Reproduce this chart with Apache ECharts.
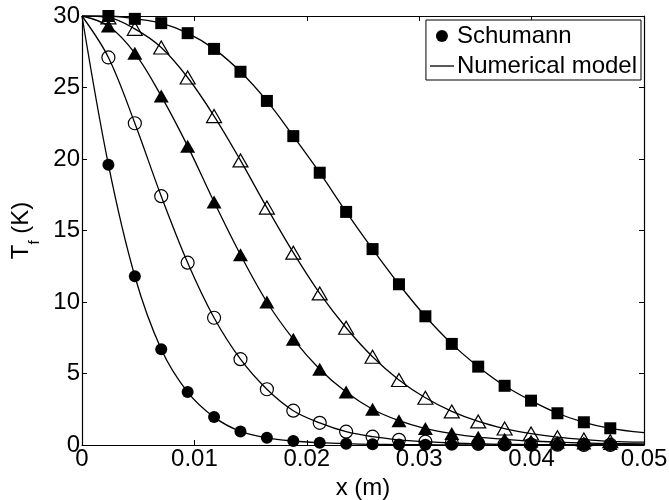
<!DOCTYPE html>
<html>
<head>
<meta charset="utf-8">
<script src="https://cdn.jsdelivr.net/npm/echarts@6/dist/echarts.min.js"></script>
<style>html,body{margin:0;padding:0;background:#fff}#c{width:669px;height:500px}</style>
</head>
<body>
<div id="c"></div>
<script>
// Marker positions (m)
var xPoints = [0.00235, 0.0047, 0.00705, 0.0094, 0.01175, 0.0141, 0.01645, 0.0188, 0.02115, 0.0235,
               0.02585, 0.0282, 0.03055, 0.0329, 0.03525, 0.0376, 0.03995, 0.0423, 0.04465, 0.047];
var xStart = 0, xEnd = 0.05, tStart = 30;
// Schumann values (K) at xPoints
var filledCircle   = [19.6, 11.8, 6.7, 3.7, 1.95, 0.95, 0.5, 0.28, 0.16, 0.09, 0.05, 0.03, 0.02, 0.01, 0.01, 0, 0, 0, 0, 0];
var openCircle     = [27.1, 22.5, 17.4, 12.75, 8.9, 6.0, 3.9, 2.4, 1.55, 0.93, 0.58, 0.36, 0.23, 0.14, 0.09, 0.05, 0.03, 0.02, 0.01, 0.01];
var filledTriangle = [29.3, 27.4, 24.4, 20.9, 17.0, 13.3, 10.0, 7.4, 5.3, 3.7, 2.5, 1.7, 1.15, 0.8, 0.55, 0.4, 0.28, 0.2, 0.14, 0.1];
var openTriangle   = [29.9, 29.1, 27.8, 25.7, 23.0, 19.9, 16.6, 13.45, 10.6, 8.2, 6.17, 4.55, 3.3, 2.35, 1.65, 1.15, 0.8, 0.55, 0.38, 0.26];
var filledSquare   = [30.0, 29.8, 29.5, 28.8, 27.7, 26.1, 24.06, 21.6, 19.04, 16.3, 13.7, 11.24, 9.0, 7.07, 5.48, 4.14, 3.1, 2.22, 1.59, 1.17];
// Numerical model end values at x = 0.05
var modelEnd = {fc: 0, oc: 0, ft: 0.07, ot: 0.2, fs: 0.86};
var xTicks = [0, 0.01, 0.02, 0.03, 0.04, 0.05];
var yTicks = [0, 5, 10, 15, 20, 25, 30];

function pts(vals) { return xPoints.map(function (x, i) { return [x, vals[i]]; }); }
function model(vals, end) { return [[xStart, tStart]].concat(pts(vals)).concat([[xEnd, end]]); }

var FONT = 'Liberation Sans, Arial, Helvetica, sans-serif';
var FS = 24;
var lineBase = { type: 'line', smooth: 0.35, symbol: 'none', showSymbol: false,
  lineStyle: { color: '#000', width: 1.3, opacity: 1 }, itemStyle: { color: '#000' }, z: 2, silent: true };
function line(name, vals, end) { return Object.assign({}, lineBase, { name: name, data: model(vals, end) }); }
function scat(name, vals, symbol, size, filled) {
  return { type: 'scatter', name: name, data: pts(vals), symbol: symbol, symbolSize: size, z: 3, silent: true,
    itemStyle: filled ? { color: '#000', opacity: 1 } : { color: 'rgba(0,0,0,0)', borderColor: '#000', borderWidth: 1.2, opacity: 1 } };
}

var axisCommon = {
  axisLine: { show: true, onZero: false, lineStyle: { color: '#000', width: 1.2 } },
  axisTick: { show: true, inside: true, length: 5, lineStyle: { color: '#000', width: 1 } },
  splitLine: { show: false }
};

var option = {
  animation: false,
  backgroundColor: '#fff',
  textStyle: { fontFamily: FONT },
  grid: { left: 82, right: 25, top: 16, bottom: 55, containLabel: false, outerBoundsMode: 'none' },
  xAxis: [
    Object.assign({}, axisCommon, { type: 'value', position: 'bottom', min: xTicks[0], max: xTicks[xTicks.length - 1], interval: 0.01,
      name: 'x (m)', nameLocation: 'middle', nameGap: 27, nameTextStyle: { color: '#000', fontSize: FS, fontFamily: FONT },
      axisLabel: { color: '#000', fontSize: FS, fontFamily: FONT, margin: 2, formatter: function (v) { return String(+v.toFixed(2)); } } }),
    Object.assign({}, axisCommon, { type: 'value', position: 'top', min: xTicks[0], max: xTicks[xTicks.length - 1], interval: 0.01,
      axisLabel: { show: false } })
  ],
  yAxis: [
    Object.assign({}, axisCommon, { type: 'value', position: 'left', min: yTicks[0], max: yTicks[yTicks.length - 1], interval: 5,
      name: '{t|T}{s|f}{t| (K)}', nameLocation: 'middle', nameGap: 30, nameRotate: 90,
      nameTextStyle: { color: '#000', rich: {
        t: { fontSize: FS, fontFamily: FONT, color: '#000', lineHeight: 24, verticalAlign: 'top' },
        s: { fontSize: 15, fontFamily: FONT, color: '#000', lineHeight: 16, verticalAlign: 'top', padding: [18, 0, 0, 0] } } },
      axisLabel: { color: '#000', fontSize: FS, fontFamily: FONT, margin: 2 } }),
    Object.assign({}, axisCommon, { type: 'value', position: 'right', min: yTicks[0], max: yTicks[yTicks.length - 1], interval: 5,
      axisLabel: { show: false } })
  ],
  legend: {
    data: [{ name: 'Schumann', icon: 'circle' }, { name: 'Numerical model', icon: 'path://M0,0H24V1.3H0Z' }],
    orient: 'vertical', right: 28, top: 20, padding: [4, 4, 2, 4], itemGap: 6,
    itemWidth: 24, itemHeight: 12, itemStyle: { color: '#000', opacity: 1 }, symbolKeepAspect: true,
    backgroundColor: '#fff', borderColor: '#000', borderWidth: 1, borderRadius: 0,
    textStyle: { color: '#000', fontSize: FS, fontFamily: FONT, padding: [0, 0, 0, -2] },
    selectedMode: false
  },
  series: [
    line('Numerical model', filledCircle, modelEnd.fc),
    line('Model 2', openCircle, modelEnd.oc),
    line('Model 3', filledTriangle, modelEnd.ft),
    line('Model 4', openTriangle, modelEnd.ot),
    line('Model 5', filledSquare, modelEnd.fs),
    scat('Schumann', filledCircle, 'circle', 12, true),
    scat('Schumann 2', openCircle, 'circle', 13, false),
    scat('Schumann 3', filledTriangle, 'triangle', [15, 13], true),
    scat('Schumann 4', openTriangle, 'triangle', [15, 13], false),
    scat('Schumann 5', filledSquare, 'rect', 12, true)
  ]
};
echarts.init(document.getElementById('c'), null, { renderer: 'canvas' }).setOption(option);
</script>
</body>
</html>
